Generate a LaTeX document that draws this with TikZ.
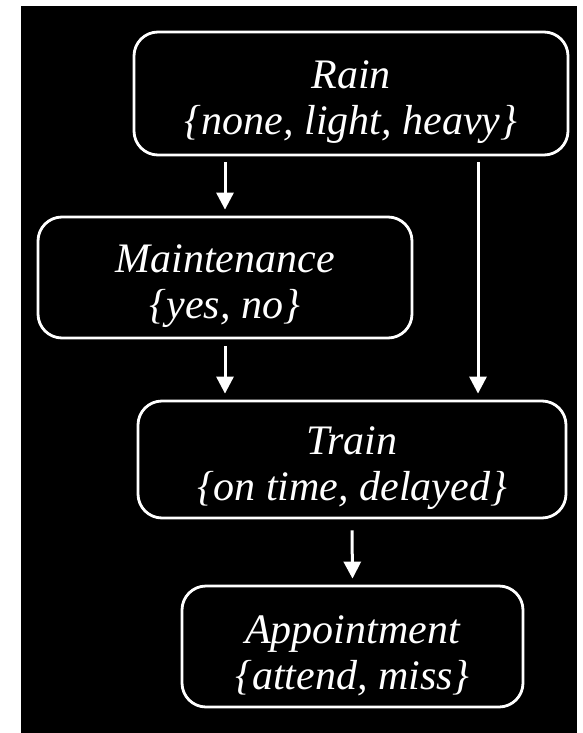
\documentclass[tikz,border=0pt]{standalone}
\usepackage{fontspec}
\setmainfont{Liberation Serif}
\usetikzlibrary{arrows.meta}
% extra height on the first line drops each text block a little inside its box
\newcommand{\toplift}{\rule{0pt}{46pt}}
\begin{document}
\begin{tikzpicture}[x=1pt,y=-1pt,
  var/.style={draw=white, line width=2.8pt, rounded corners=24pt, text=white,
    font=\fontsize{42}{46}\selectfont\itshape, align=center, inner sep=0pt},
  link/.style={draw=white, line width=3pt, -{Triangle[width=17pt,length=17pt]}}]
% page and dark panel
\fill[white] (0,0) rectangle (582,733);
\fill[black] (21,6) rectangle (577,733);
% variables
\node[var, minimum width=434pt, minimum height=123pt] (rain) at (351,93.5)
  {\toplift Rain\\\{none, light, heavy\}};
\node[var, minimum width=374pt, minimum height=121pt] (maint) at (225,277.5)
  {\toplift Maintenance\\\{yes, no\}};
\node[var, minimum width=428pt, minimum height=117pt] (train) at (352,459.5)
  {\toplift Train\\\{on time, delayed\}};
\node[var, minimum width=341pt, minimum height=121pt] (appt) at (352.5,646.5)
  {\toplift Appointment\\\{attend, miss\}};
% dependencies
\draw[link] ([yshift=-6pt]rain.south -| maint.north) -- ([yshift=6pt]maint.north);
\draw[link] ([xshift=127pt,yshift=-6pt]rain.south) -- ([xshift=126pt,yshift=6pt]train.north);
\draw[link] ([yshift=-7pt]maint.south) -- ([yshift=6pt]train.north -| maint.south);
\draw[link] ([yshift=-11pt]train.south) -- ([yshift=6pt]appt.north);
\end{tikzpicture}
\end{document}
